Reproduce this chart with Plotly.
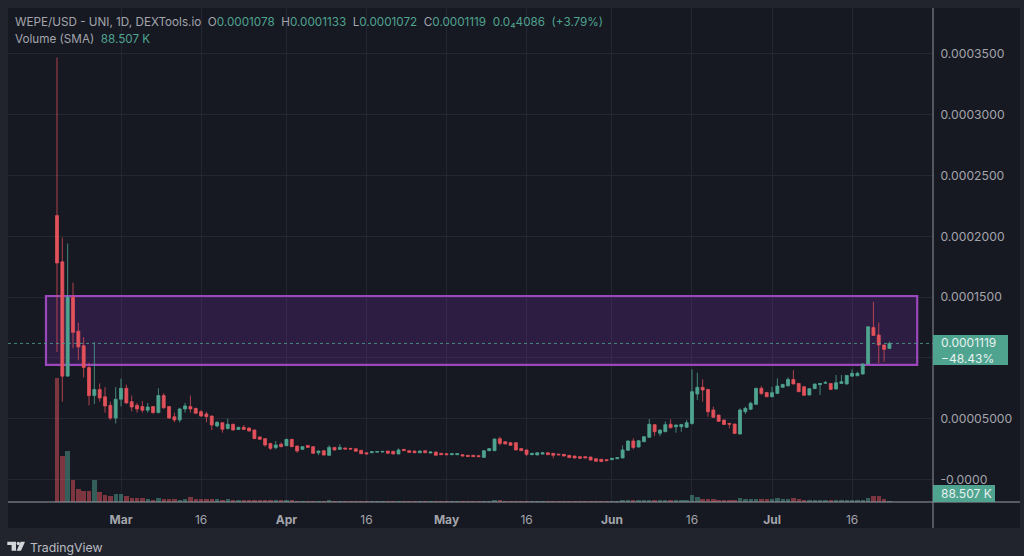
import pandas as pd
import plotly.graph_objects as go

W, H = 1024, 556
START_DATE = "2024-02-18"
# Prices are in millionths of a USD
OPEN = [217,179,85,150,122,110,92,69,74,68,61,50.5,66,75,64,61,60,57,60,55,
        69,60,51.6,49,58,60,58.5,55.8,53.9,52.2,44,46.7,42,45.4,41.2,42.9,42.3,40.7,35,33.6,
        29.7,26.2,29,27.8,33,27.5,24.8,28,27,22,23.7,19.9,26.4,24.8,25.9,25.6,25.3,24,22,22,
        22.5,22.6,23.4,23.2,21,24.8,23.7,23.4,22,23.7,21.8,22.6,21.5,21.2,20.4,20.4,20.4,19.9,19.9,19.6,
        18.2,23.7,23.7,33.6,31.1,30.3,30.3,25.4,24.3,20.4,20.2,20.9,22,21.5,20.9,20.7,19.9,19.3,18.8,18.8,
        18.5,17.1,16.6,16.3,16.3,17.1,17.7,24,31.7,26.7,31.1,34.7,45.1,38,39.3,45.4,43.4,43.4,42.9,46.1,
        70.3,75.8,74.1,57.1,53,48.9,46,45.6,37.4,55.7,57.7,61.8,75,71.6,68,70.8,75.8,77,82.3,79,
        76.3,69.5,74.7,78,79.2,79,74.4,79,78.5,85,85.3,86.7,95,125,118.8,110.6,107.8]
HIGH = [347,199,194,162,129,117,96,113,79,76,64,76,83,78,69,63,64.5,63,60.5,75,
        71,60.5,55,59,63,69,59,57,55.8,52.5,48,47,50,45.8,43.4,44.8,43,41,35.4,34,
        30,31.7,30.5,33.4,33.4,27.9,27.4,28.4,27.4,23.8,24,28.1,26.8,29,26.2,25.9,25.6,24.3,22.3,23.2,
        23.3,23.4,23.7,23.5,25.6,25.1,24,23.7,23.7,24,22.9,22.9,21.8,21.5,21.5,21.5,20.7,20.2,20.2,19.9,
        24,25.7,33.6,35.2,31.4,30.6,30.6,25.7,24.6,21.8,22.3,22.3,22.3,21.8,21.2,21,20.2,19.6,19.1,19.1,
        18.8,17.4,16.9,16.6,17.7,18.2,28,32,33.9,32.2,35.5,49.7,45.4,40.9,47.6,49.5,45,45.6,48.9,90.6,
        87.8,82.3,74.4,59.9,53.3,49.2,46.6,45.9,58.5,59.9,64,75.3,76.8,71.9,76.3,83.2,78.5,84,90,79.3,
        76.6,75,78.8,79.3,81,79.3,85.9,85.9,85.9,90.6,88.6,95.3,125.9,146.2,129,110.9,113.3]
LOW = [105,64,85,108,98,84,61,62,64,55,49,46,60,62,56,55,55,55,54,54.5,
       58,50,47,47,55,55,54,51.5,47,40.7,43,38.5,41,40.3,40.8,40.7,39.5,33.2,32.6,27,
       24.3,24.8,26.5,27.4,26.6,22,24.4,26,21.1,20,19.7,19.5,23.9,24.4,24.7,24.7,22.9,20.9,20.7,21.7,
       22.2,22.3,21.2,20.7,20.7,23.4,22,21.7,21.7,21.7,21.5,19.6,20.1,20.1,20.1,20.1,19,18.7,18.5,18.5,
       17.9,23.4,23.4,28,28.9,27.8,24,23.4,19.3,20.1,19.9,20.6,20.1,17.4,20,19,17.7,17.4,17.1,17.4,
       15.7,14.7,14.4,15.2,16,16.8,17.4,23.7,24.8,26.4,30.8,34.4,35.8,35.8,39,42,38.5,39.3,42.6,45,
       65.3,64,51.6,50.8,47.5,45,42,37.6,37.1,53.8,57.4,61.5,69.5,67.7,67.7,70.5,75.5,76.7,78.2,71.9,
       68.9,69.2,74.4,69.5,78.9,73.8,74.1,78.7,78.2,84.7,85,86.4,94.7,118.2,95.5,96.9,107.2]
CLOSE = [178,85,150,121,109,92,69,74,67,60.5,50.5,66,75,63,59.6,58,57,59.6,55,69,
         59,50.5,49,58,60.5,58,54.4,52.2,51.7,44.8,47,41.3,45.4,40.7,42.9,41.2,39.9,33.6,33,28.4,
         25.6,28.4,27,33,27,23.4,27,26.4,21.5,23.4,20.1,26.4,24.3,26.4,25,25,23.2,21.2,21,22.9,
         23,23.1,21.5,21,24.3,23.7,22.3,22,23.4,22,22.6,19.9,20.4,20.4,21.2,21.2,19.3,19,18.8,18.8,
         23.7,25.4,33.3,29.7,29.2,28.1,24.3,23.7,20.7,21.5,22,22,20.4,19.9,20.3,19.3,18,17.7,17.4,17.7,
         16,15,14.7,15.5,17.4,17.9,24.3,31.7,26.4,31.9,35.2,45.4,39.3,40.7,45.1,42.6,44.8,45.3,46.7,72.2,
         75.8,73.6,55.7,51.1,47.8,45.3,45.5,37.9,57.1,58.5,62.6,75,70.8,68,71.4,76.8,78.2,82.3,78.5,72.2,
         69.2,74.7,78.5,79,79.6,74.1,79.6,80.4,85.6,87.3,87.3,95,125.6,118.5,110.6,107,111.9]
# Volume in thousands
VOLUME = [7290,2700,2990,1280,785,630,630,1280,590,395,335,455,455,355,255,235,220,175,135,220,
          160,160,160,135,160,310,195,150,160,190,160,130,150,120,90,100,110,130,120,120,
          130,100,90,100,90,80,60,75,70,70,75,90,80,70,60,60,65,60,55,55,
          55,55,60,60,70,60,55,55,55,55,55,50,50,50,50,50,50,50,50,50,
          70,75,100,100,80,70,70,60,70,60,60,55,55,60,55,55,55,55,50,50,
          55,55,55,50,60,65,90,110,120,110,120,130,110,100,100,90,100,120,130,395,
          295,175,175,150,130,120,120,140,255,205,175,150,150,205,175,255,205,175,255,205,
          130,100,100,120,100,90,110,100,100,100,100,120,255,335,335,205,88.507]

PRICE_TICKS = [350, 300, 250, 200, 150, 100, 50, 0]
PRICE_LABELS = ["0.0003500", "0.0003000", "0.0002500", "0.0002000", "0.0001500", "", "0.00005000", "-0.0000"]
DATE_TICKS = ["2024-03-01", "2024-03-16", "2024-04-01", "2024-04-16", "2024-05-01",
              "2024-05-16", "2024-06-01", "2024-06-16", "2024-07-01", "2024-07-16"]
DATE_LABELS = ["<b>Mar</b>", "16", "<b>Apr</b>", "16", "<b>May</b>", "16", "<b>Jun</b>", "16", "<b>Jul</b>", "16"]
ZONE_LOW, ZONE_HIGH = 94.2, 150.9
ZONE_START, ZONE_END = "2024-02-15 22:30", "2024-07-28 05:00"
X_RANGE = ["2024-02-08 19:40", "2024-07-31 04:00"]
Y_RANGE = [-18.5, 387.7]
VOL_RANGE = [0, 29150]

BG = "#21242d"; PANEL = "#161822"; GRID = "#242733"; TXT = "#a3a5ab"
GREEN = "#4fa48f"; RED = "#e3525b"
FONT = "Inter"

dates = pd.date_range(START_DATE, periods=len(OPEN), freq="D")
px = lambda x: x / W
py = lambda y: 1 - y / H

fig = go.Figure()
fig.add_trace(go.Candlestick(
    x=dates, open=OPEN, high=HIGH, low=LOW, close=CLOSE, yaxis="y", whiskerwidth=0,
    increasing=dict(fillcolor=GREEN, line=dict(color="rgba(79,164,143,0.8)", width=1)),
    decreasing=dict(fillcolor=RED, line=dict(color="rgba(227,82,91,0.75)", width=1)),
    showlegend=False))
fig.add_trace(go.Bar(
    x=dates, y=VOLUME, yaxis="y2", width=0.82 * 86400000,
    marker=dict(color=["rgba(79,164,143,0.5)" if c >= o else "rgba(227,82,91,0.5)" for o, c in zip(OPEN, CLOSE)],
                line_width=0),
    hoverinfo="skip", showlegend=False))


def poly(points, color):
    path = "M " + " L ".join(f"{px(x):.5f} {py(y):.5f}" for x, y in points) + " Z"
    return dict(type="path", xref="paper", yref="paper", path=path, fillcolor=color, line_width=0, layer="above")


def tag(x0, x1, y0, y1):
    return dict(type="rect", xref="paper", yref="paper", x0=px(x0), x1=px(x1), y0=py(y1), y1=py(y0),
                fillcolor=GREEN, line_width=0, layer="above")


shapes = [
    dict(type="rect", xref="paper", yref="paper", x0=px(8), x1=px(1020), y0=py(528), y1=py(8),
         fillcolor=PANEL, line_width=0, layer="below"),
    dict(type="line", xref="paper", yref="paper", x0=px(8), x1=px(1020), y0=py(502), y1=py(502),
         line=dict(color="#9b9da3", width=1.2), layer="above"),
    dict(type="line", xref="paper", yref="paper", x0=px(933), x1=px(933), y0=py(528), y1=py(8),
         line=dict(color="#7e8087", width=1.2), layer="above"),
    dict(type="rect", xref="x", yref="y", x0=ZONE_START, x1=ZONE_END, y0=ZONE_LOW, y1=ZONE_HIGH,
         fillcolor="rgba(122,46,170,0.24)", line=dict(color="#9a48bb", width=2.2), layer="between"),
    dict(type="line", xref="x", yref="y", x0=X_RANGE[0], x1=X_RANGE[1], y0=CLOSE[-1], y1=CLOSE[-1],
         line=dict(color="rgba(79,164,143,0.8)", width=1, dash="dot"), layer="above"),
    tag(933, 1008, 335, 365),
    tag(933, 995, 485, 502),
    poly([(7.3, 541.7), (16, 541.7), (16, 550.7), (11.6, 550.7), (11.6, 545), (7.3, 545)], "#d4d6da"),
    poly([(20.6, 541.7), (25, 541.7), (21, 550.7), (16.6, 550.7)], "#d4d6da"),
    dict(type="circle", xref="paper", yref="paper", x0=px(16.6), x1=px(20), y0=py(545.2), y1=py(541.8),
         fillcolor="#d4d6da", line_width=0, layer="above"),
]

g = lambda s: f'<span style="color:{GREEN}">{s}</span>'
line1 = ("WEPE/USD - UNI, 1D, DEXTools.io  O" + g("0.0001078") + "  H" + g("0.0001133") +
         "  L" + g("0.0001072") + "  C" + g("0.0001119") + "  " + g("0.0₄4086") + "  " + g("(+3.79%)"))
line2 = "Volume (SMA)  " + g("88.507 K")


def note(text, x, y, **kw):
    base = dict(text=text, xref="paper", yref="paper", x=px(x), y=py(y), xanchor="left", yanchor="middle",
                showarrow=False, align="left", font=dict(family=FONT, size=11.7, color=TXT), borderpad=0)
    base.update(kw)
    return base


TAG_FONT = dict(family=FONT, size=12, color="#e6f2ef")
annotations = [
    note(line1, 13.5, 22),
    note(line2, 13.5, 39),
    note("0.0001119<br>−48.43%", 940, 350, font=TAG_FONT),
    note("88.507 K", 940, 493.5, font=TAG_FONT),
    note("TradingView", 29, 547, font=dict(family=FONT, size=12.3, color="#b9bbc0")),
]

fig.update_layout(
    width=W, height=H, autosize=False,
    margin=dict(l=0, r=0, t=0, b=0),
    paper_bgcolor=BG, plot_bgcolor="rgba(0,0,0,0)",
    font=dict(family=FONT, size=12, color=TXT),
    showlegend=False, bargap=0, boxgap=0.2,
    xaxis=dict(domain=[px(8), px(933)], range=X_RANGE, type="date", rangeslider_visible=False,
               tickmode="array", tickvals=DATE_TICKS, ticktext=DATE_LABELS,
               showgrid=True, gridcolor=GRID, gridwidth=1, zeroline=False, showline=False,
               ticks="outside", ticklen=7, tickcolor="rgba(0,0,0,0)",
               tickfont=dict(family=FONT, size=12, color=TXT), anchor="y"),
    yaxis=dict(domain=[py(502), py(8)], side="right", anchor="x", range=Y_RANGE,
               tickmode="array", tickvals=PRICE_TICKS, ticktext=PRICE_LABELS,
               showgrid=True, gridcolor=GRID, gridwidth=1, zeroline=False, showline=False,
               ticks="outside", ticklen=4, tickcolor="rgba(0,0,0,0)",
               tickfont=dict(family=FONT, size=12.2, color=TXT)),
    yaxis2=dict(domain=[py(502), py(8)], range=VOL_RANGE, overlaying="y", visible=False, fixedrange=True),
    shapes=shapes, annotations=annotations,
)
fig.write_html("out.html", config=dict(displayModeBar=False),
               post_script="document.body.style.margin='0';document.body.style.background='#21242d';")
